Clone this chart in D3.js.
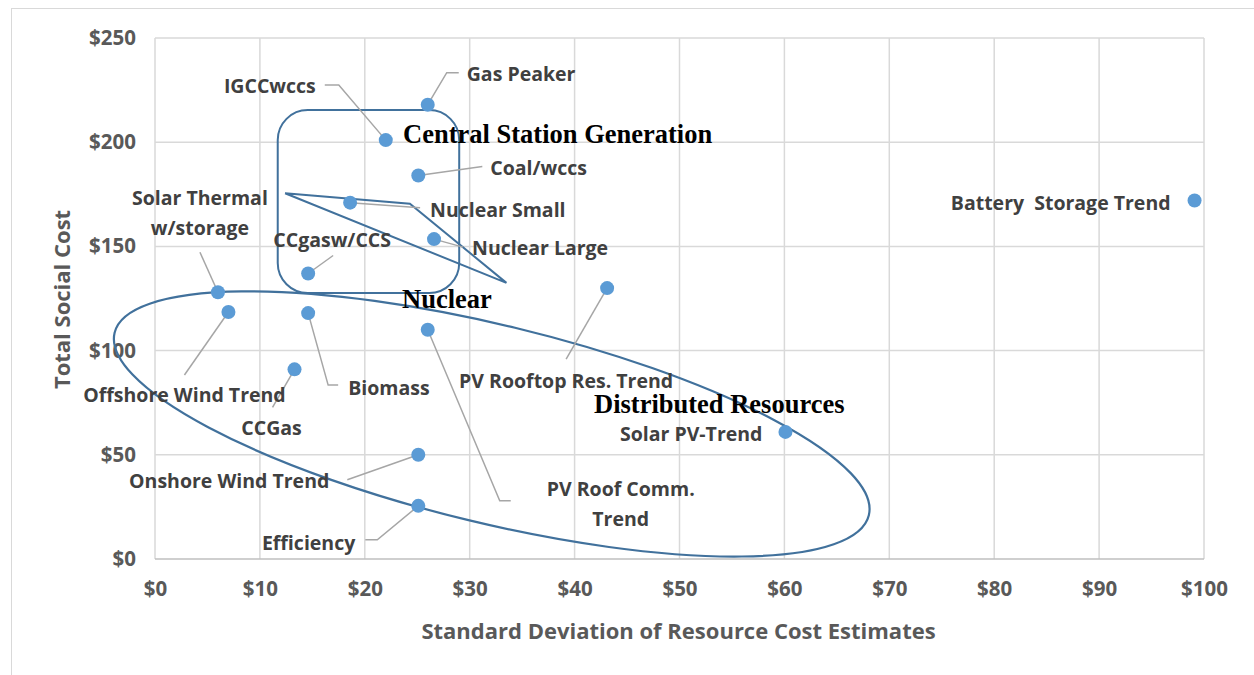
<!DOCTYPE html>
<html>
<head>
<meta charset="utf-8">
<script src="https://cdn.jsdelivr.net/npm/d3@7"></script>
<style>
  body { margin: 0; background: #fff; }
  svg { display: block; }
  .tick text { font-family: 'Open Sans', sans-serif; font-weight: 700; font-size: 20.5px; fill: #595959; }
</style>
</head>
<body>
<div id="chart"></div>
<script>
// resources: standard deviation of cost estimates vs total social cost
const names = ['Gas Peaker', 'IGCCwccs', 'Coal/wccs', 'Nuclear Small', 'Nuclear Large', 'CCgasw/CCS',
  'Solar Thermal|w/storage', 'Offshore Wind Trend', 'Biomass', 'PV Roof Comm.|Trend', 'CCGas',
  'Onshore Wind Trend', 'Efficiency', 'PV Rooftop Res. Trend', 'Solar PV-Trend', 'Battery  Storage Trend']
const stdDev = [26.0, 22.0, 25.1, 18.6, 26.6, 14.6, 6.0, 7.0, 14.6, 26.0, 13.3, 25.1, 25.1, 43.1, 60.1, 99.1]
const socialCost = [218, 201, 184, 171, 153.5, 137, 128, 118.5, 118, 110, 91, 50, 25.5, 130, 61, 172]
const xTicks = [0, 10, 20, 30, 40, 50, 60, 70, 80, 90, 100]
const yTicks = [0, 50, 100, 150, 200, 250]

// label placement (pixel offsets from the point) and leader line bends
const labelLayout = [
  {dx: 39, dy: -32, anchor: 'start', leader: [[19, -32], [31, -32]]},
  {dx: -70, dy: -55, anchor: 'end', leader: [[-47, -55], [-61, -55]]},
  {dx: 72, dy: -9, anchor: 'start', leader: [[64, -9]]},
  {dx: 80, dy: 6, anchor: 'start', leader: [[70, 5]]},
  {dx: 38, dy: 8, anchor: 'start', leader: [[29, 8]]},
  {dx: 24, dy: -34, anchor: 'middle', leader: [[25, -18]]},
  {dx: -18, dy: -95, anchor: 'middle', leader: [[-18, -40]]},
  {dx: -44, dy: 82, anchor: 'middle', leader: [[-44, 63]]},
  {dx: 40, dy: 74, anchor: 'start', leader: [[20, 72], [30, 72]]},
  {dx: 193, dy: 158, anchor: 'middle', leader: [[72, 171], [83, 171]]},
  {dx: -23, dy: 58, anchor: 'middle', leader: [[-22, 38]]},
  {dx: -89, dy: 25, anchor: 'end', leader: [[-71, 25]]},
  {dx: -63, dy: 36, anchor: 'end', leader: [[-41, 34], [-53, 34]]},
  {dx: -41, dy: 92, anchor: 'middle', leader: [[-41, 71]]},
  {dx: -23, dy: 1, anchor: 'end', leader: []},
  {dx: -24, dy: 1, anchor: 'end', leader: []}
]

const W = 1254, H = 675
const margin = {top: 38, right: 50, bottom: 116, left: 155}

const svg = d3.select('#chart').append('svg')
  .attr('width', W)
  .attr('height', H)

// chart frame
svg.append('rect')
  .attr('x', 11.5)
  .attr('y', 8.5)
  .attr('width', W + 10)
  .attr('height', H + 10)
  .attr('fill', 'none')
  .attr('stroke', '#d9d9d9')

const x = d3.scaleLinear().domain([0, 100]).range([margin.left, W - margin.right])
const y = d3.scaleLinear().domain([0, 250]).range([H - margin.bottom, margin.top])

// grid
svg.append('g')
  .selectAll('line')
  .data(xTicks)
  .join('line')
  .attr('x1', d => x(d)).attr('x2', d => x(d))
  .attr('y1', y(0)).attr('y2', y(250))
  .attr('stroke', '#d9d9d9')
  .attr('stroke-width', 1.5)
svg.append('g')
  .selectAll('line')
  .data(yTicks)
  .join('line')
  .attr('x1', x(0)).attr('x2', x(100))
  .attr('y1', d => y(d)).attr('y2', d => y(d))
  .attr('stroke', d => d === 0 ? '#bfbfbf' : '#d9d9d9')
  .attr('stroke-width', 1.5)

// axes
const xAxis = svg.append('g')
  .attr('transform', `translate(0, ${y(0)})`)
  .call(d3.axisBottom(x).tickValues(xTicks).tickSize(0).tickPadding(22).tickFormat(d => '$' + d))
xAxis.select('.domain').remove()
const yAxis = svg.append('g')
  .attr('transform', `translate(${x(0)}, 0)`)
  .call(d3.axisLeft(y).tickValues(yTicks).tickSize(0).tickPadding(19).tickFormat(d => '$' + d))
yAxis.select('.domain').remove()

svg.append('text')
  .attr('x', (x(0) + x(100)) / 2 - 1)
  .attr('y', 639)
  .attr('text-anchor', 'middle')
  .style('font-family', "'Open Sans', sans-serif")
  .style('font-weight', 700)
  .style('font-size', '22px')
  .style('fill', '#595959')
  .text('Standard Deviation of Resource Cost Estimates')
svg.append('text')
  .attr('transform', `translate(70, ${(y(0) + y(250)) / 2 + 1}) rotate(-90)`)
  .attr('text-anchor', 'middle')
  .style('font-family', "'Open Sans', sans-serif")
  .style('font-weight', 700)
  .style('font-size', '22px')
  .style('fill', '#595959')
  .text('Total Social Cost')

const pts = names.map((n, i) => ({name: n, sd: stdDev[i], cost: socialCost[i], lay: labelLayout[i]}))

// annotation shapes
const shapeColor = '#41719c'
svg.append('rect')
  .attr('x', x(11.7))
  .attr('y', y(215.4))
  .attr('width', x(29.0) - x(11.7))
  .attr('height', y(127.6) - y(215.4))
  .attr('rx', 30)
  .attr('fill', 'none')
  .attr('stroke', shapeColor)
  .attr('stroke-width', 2)

svg.append('path')
  .attr('d', d3.line()([[x(12.4), y(175.5)], [x(24.3), y(170.5)], [x(33.5), y(132.5)], [x(12.4), y(175.5)]]))
  .attr('fill', 'none')
  .attr('stroke', shapeColor)
  .attr('stroke-width', 2)
  .attr('stroke-linejoin', 'miter')

svg.append('ellipse')
  .attr('cx', 0).attr('cy', 0)
  .attr('rx', 388).attr('ry', 99)
  .attr('transform', `translate(${x(32.1)}, ${y(64.8)}) rotate(13.6)`)
  .attr('fill', 'none')
  .attr('stroke', shapeColor)
  .attr('stroke-width', 2.2)

// leader lines
svg.append('g')
  .selectAll('path')
  .data(pts.filter(d => d.lay.leader.length))
  .join('path')
  .attr('d', d => {
    const px = x(d.sd), py = y(d.cost)
    return d3.line()([[px, py]].concat(d.lay.leader.map(p => [px + p[0], py + p[1]])))
  })
  .attr('fill', 'none')
  .attr('stroke', '#a6a6a6')
  .attr('stroke-width', 1.5)

// points
svg.append('g')
  .selectAll('circle')
  .data(pts)
  .join('circle')
  .attr('cx', d => x(d.sd))
  .attr('cy', d => y(d.cost))
  .attr('r', 7)
  .attr('fill', '#5b9bd5')

// labels
const labels = svg.append('g')
  .selectAll('text')
  .data(pts)
  .join('text')
  .attr('x', d => x(d.sd) + d.lay.dx)
  .attr('y', d => y(d.cost) + d.lay.dy)
  .attr('text-anchor', d => d.lay.anchor)
  .attr('dominant-baseline', 'central')
  .style('font-family', "'Open Sans', sans-serif")
  .style('font-weight', 700)
  .style('font-size', '19.5px')
  .style('fill', '#404040')
  .style('white-space', 'pre')
labels.selectAll('tspan')
  .data(d => d.name.split('|').map((s, i) => ({s, i, d})))
  .join('tspan')
  .attr('x', t => x(t.d.sd) + t.d.lay.dx)
  .attr('dy', t => t.i === 0 ? 0 : 30)
  .text(t => t.s)

// group titles
const groupTitles = [
  {text: 'Central Station Generation', sd: 23.65, cost: 204},
  {text: 'Nuclear', sd: 23.55, cost: 125},
  {text: 'Distributed Resources', sd: 41.85, cost: 74.5}
]
svg.append('g')
  .selectAll('text')
  .data(groupTitles)
  .join('text')
  .attr('x', d => x(d.sd))
  .attr('y', d => y(d.cost))
  .attr('dominant-baseline', 'central')
  .style('font-family', "'Liberation Serif', serif")
  .style('font-weight', 700)
  .style('font-size', '26.5px')
  .style('fill', '#000')
  .text(d => d.text)
</script>
</body>
</html>
